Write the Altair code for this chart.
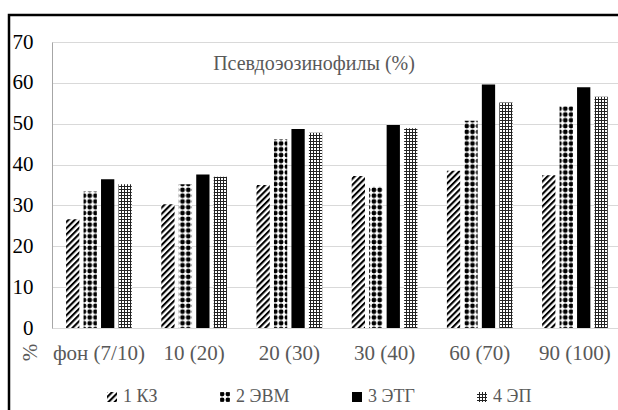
import altair as alt
import pandas as pd
import jinja2
from altair.utils.html import TEMPLATES

# ---- data ----
categories = ["фон (7/10)", "10 (20)", "20 (30)", "30 (40)", "60 (70)", "90 (100)"]
series = ["1 КЗ", "2 ЭВМ", "3 ЭТГ", "4 ЭП"]
kz = [26.6, 30.3, 35.0, 37.2, 38.5, 37.4]
evm = [33.4, 35.2, 46.2, 34.6, 50.7, 54.3]
etg = [36.4, 37.6, 48.7, 49.7, 59.6, 58.9]
ep = [35.2, 37.0, 47.8, 48.9, 55.2, 56.6]
y_ticks = [0, 10, 20, 30, 40, 50, 60, 70]
title_text = "Псевдоэозинофилы (%)"

rows = []
for name, vals in zip(series, [kz, evm, etg, ep]):
    for c, v in zip(categories, vals):
        rows.append({"cat": c, "series": name, "value": v})
df = pd.DataFrame(rows)

SERIF = "Liberation Serif"
GREY = "#595959"

fills = ["url(#pHatch)", "url(#pDots)", "#000000", "url(#pGrid)"]

bars = alt.Chart(df).mark_bar().encode(
    x=alt.X("cat:N", sort=categories,
            scale=alt.Scale(paddingInner=0.31, paddingOuter=0.1275, align=0.58),
            axis=alt.Axis(title=None, labelAngle=0, labelFont=SERIF, labelFontSize=21,
                          labelColor=GREY, labelPadding=14, ticks=False,
                          domainColor="#d9d9d9", labelOverlap=False)),
    xOffset=alt.XOffset("series:N", sort=series,
                        scale=alt.Scale(paddingInner=0.24, paddingOuter=0)),
    y=alt.Y("value:Q", scale=alt.Scale(domain=[0, 70], nice=False),
            axis=alt.Axis(values=y_ticks, title="%", labelFont=SERIF, labelFontSize=21,
                          labelColor="#000000", labelPadding=19, ticks=False,
                          domainColor="#a6a6a6", gridColor="#d9d9d9",
                          titleFont=SERIF, titleFontSize=21, titleColor=GREY,
                          titleFontWeight="normal", titleX=-22, titleY=310,
                          titleAlign="center", titleBaseline="middle")),
    fill=alt.Fill("series:N", sort=series,
                  scale=alt.Scale(domain=series, range=fills),
                  legend=alt.Legend(title=None, orient="none", legendX=51, legendY=346,
                                    direction="horizontal", columns=4,
                                    symbolType="square", symbolSize=100,
                                    symbolStrokeWidth=0, labelFont=SERIF,
                                    labelFontSize=18, labelColor=GREY,
                                    labelOffset=2, columnPadding=58)),
)

frame = alt.Chart(alt.Data(values=[{"f": 1}])).mark_rect(
    filled=False, stroke="#000000", strokeWidth=2.5
).encode(x=alt.value(-43), x2=alt.value(700), y=alt.value(-27), y2=alt.value(500))

chart = alt.layer(bars, frame).properties(
    width=566, height=286,
    title=alt.TitleParams(title_text, font=SERIF, fontSize=20, fontWeight="normal",
                          color=GREY, anchor="middle", frame="group", dx=-21,
                          offset=-28, dy=48, baseline="alphabetic"),
    autosize=alt.AutoSizeParams(type="none"),
    padding={"left": 52, "top": 42, "right": 0, "bottom": 82},
).configure_view(stroke=None).configure(background="white")

DEFS = (
    '<svg width="0" height="0" style="position:absolute;left:0;top:0" aria-hidden="true"><defs>'
    '<pattern id="pHatch" patternUnits="userSpaceOnUse" width="4.4" height="4.4" '
    'patternTransform="rotate(45)"><rect width="4.4" height="4.4" fill="#ffffff"/>'
    '<rect width="2.1" height="4.4" fill="#000000"/></pattern>'
    '<pattern id="pDots" patternUnits="userSpaceOnUse" width="5.8" height="5.8">'
    '<rect width="5.8" height="5.8" fill="#ffffff"/>'
    '<circle cx="2.9" cy="2.9" r="2.4" fill="#000000"/></pattern>'
    '<pattern id="pGrid" patternUnits="userSpaceOnUse" width="3" height="3">'
    '<rect width="3" height="3" fill="#ffffff"/>'
    '<rect width="3" height="1" fill="#222222"/><rect width="1" height="3" fill="#222222"/></pattern>'
    '</defs></svg>'
)


class PatternTemplate(jinja2.Template):
    def render(self, *args, **kwargs):
        html = TEMPLATES["standard"].render(*args, **kwargs)
        if "<body>" in html:
            return html.replace("<body>", "<body>" + DEFS, 1)
        return DEFS + html


chart.save("out.html", embed_options={"renderer": "svg", "actions": False},
           template=PatternTemplate(""))
